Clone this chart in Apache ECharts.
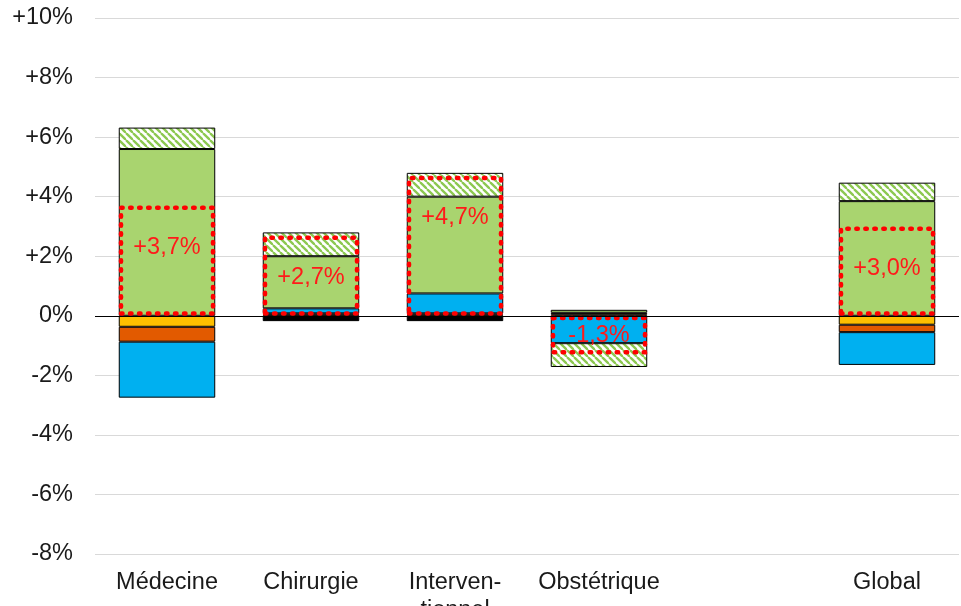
<!DOCTYPE html>
<html>
<head>
<meta charset="utf-8">
<script src="https://cdn.jsdelivr.net/npm/echarts@6/dist/echarts.min.js"></script>
<style>
  html, body { margin: 0; padding: 0; background: #ffffff; overflow: hidden; }
  #chart { width: 961px; height: 606px; }
</style>
</head>
<body>
<div id="chart"></div>
<script>
// Categories along the x axis (one empty slot before "Global")
const categories = ['Médecine', 'Chirurgie', 'Interven-\ntionnel', 'Obstétrique', '', 'Global'];

// Contributions (in % points) of each component, stacked
const blackPart   = [null, -0.18, -0.18, null, null, null];
const yellowPart  = [-0.37, 0.04, 0.04, 0.05, null, -0.30];
const orangePart  = [-0.50, 0.04, 0.04, 0.05, null, -0.25];
const bluePart    = [-1.88, 0.17, 0.67, -0.92, null, -1.10];
const greenPart   = [5.60, 1.75, 3.25, 0.10, null, 3.85];
const hatchedPart = [0.72, 0.80, 0.80, -0.80, null, 0.62];

// Net change per category (dotted red frame + label)
const netChange = [3.7, 2.7, 4.7, -1.3, null, 3.0];

// Y axis range and step (%)
const yMin = -8, yMax = 10, yStep = 2;

// Diagonal green hatch on white
function makeHatch() {
  const c = document.createElement('canvas');
  c.width = 7; c.height = 7;
  const ctx = c.getContext('2d');
  ctx.fillStyle = '#ffffff';
  ctx.fillRect(0, 0, 7, 7);
  ctx.strokeStyle = '#8cc850';
  ctx.lineWidth = 2.3;
  for (const o of [-7, 0, 7]) {
    ctx.beginPath();
    ctx.moveTo(o, 0);
    ctx.lineTo(o + 7, 7);
    ctx.stroke();
  }
  return c;
}

const FONT = 'Liberation Sans, Arial, sans-serif';
const FONT_SIZE = 23.5;
const BAR_W = '67%';
const border = { borderColor: '#000000', borderWidth: 1 };

function stackSeries(name, data, color) {
  return {
    name, type: 'bar', stack: 'parts', data,
    barWidth: BAR_W,
    itemStyle: Object.assign({ color }, border),
    emphasis: { disabled: true },
    z: 2
  };
}

function pct(v) {
  const s = Math.abs(v).toFixed(1).replace('.', ',');
  return (v > 0 ? '+' : v < 0 ? '-' : '') + s + '%';
}

const series = [
  Object.assign(stackSeries('Autres', blackPart, '#000000'), {
    markLine: {
      silent: true, symbol: 'none', animation: false,
      label: { show: false },
      lineStyle: { color: '#000000', width: 1.2, type: 'solid' },
      data: [{ yAxis: 0 }]
    }
  }),
  stackSeries('Jaune', yellowPart, '#ffc000'),
  stackSeries('Orange', orangePart, '#e25a00'),
  stackSeries('Bleu', bluePart, '#00b0f0'),
  stackSeries('Vert', greenPart, '#a9d46f'),
  stackSeries('Vert hachuré', hatchedPart, { image: makeHatch(), repeat: 'repeat' }),
  {
    name: 'Évolution', type: 'bar',
    barWidth: BAR_W, barGap: '-100%',
    z: 4,
    emphasis: { disabled: true },
    data: netChange.map(v => v == null ? null : {
      value: v,
      label: v < 0 ? { position: 'inside' } : { position: 'insideTop', distance: 30 }
    }),
    itemStyle: {
      color: 'rgba(0,0,0,0)',
      borderColor: '#ff0000',
      borderWidth: 4.5,
      borderType: [1.5, 7.5],
      borderCap: 'round'
    },
    label: {
      show: true,
      color: '#ff1a1a',
      fontFamily: FONT,
      fontSize: FONT_SIZE,
      formatter: p => pct(p.value)
    }
  }
];

const chart = echarts.init(document.getElementById('chart'), null, { renderer: 'canvas' });
chart.setOption({
  animation: false,
  backgroundColor: '#ffffff',
  grid: { left: 95, right: 2, top: 18, bottom: 52, containLabel: false, outerBoundsMode: 'none' },
  xAxis: {
    type: 'category',
    data: categories,
    axisLine: { show: false },
    axisTick: { show: false },
    axisLabel: {
      interval: 0,
      margin: 15,
      color: '#1a1a1a',
      fontFamily: FONT,
      fontSize: FONT_SIZE,
      lineHeight: 28
    }
  },
  yAxis: {
    type: 'value',
    min: yMin, max: yMax, interval: yStep,
    axisLine: { show: false },
    axisTick: { show: false },
    splitLine: { lineStyle: { color: '#d9d9d9', width: 1.2 } },
    axisLabel: {
      margin: 22,
      color: '#1a1a1a',
      fontFamily: FONT,
      fontSize: FONT_SIZE,
      formatter: v => (v > 0 ? '+' : '') + v + '%'
    }
  },
  series
});
</script>
</body>
</html>
